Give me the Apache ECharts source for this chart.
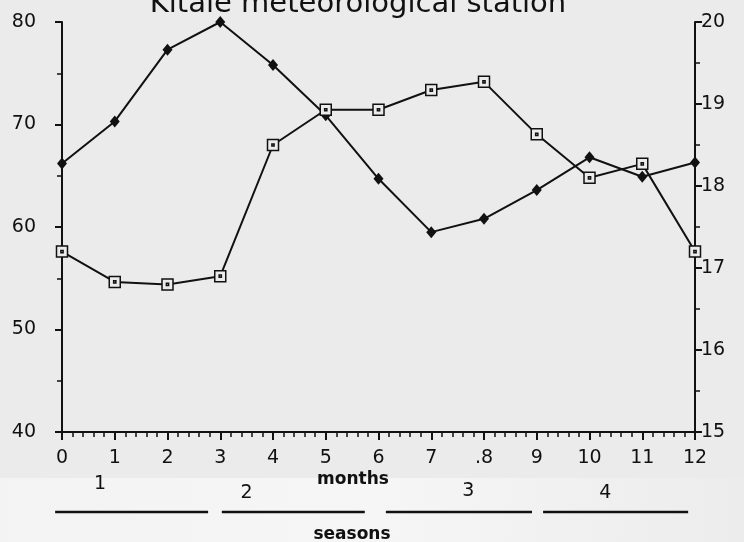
<!DOCTYPE html>
<html>
<head>
<meta charset="utf-8">
<script src="https://cdn.jsdelivr.net/npm/echarts@6/dist/echarts.min.js"></script>
<style>
  html, body { margin: 0; padding: 0; background: #ebebeb; }
  #chart-container { width: 744px; height: 542px; }
</style>
</head>
<body>
<div id="chart-container"></div>
<script>
// months 0..12
var months = [0, 1, 2, 3, 4, 5, 6, 7, 8, 9, 10, 11, 12];
var monthLabels = ['0', '1', '2', '3', '4', '5', '6', '7', '.8', '9', '10', '11', '12'];

// diamonds, read against the left axis
var diamondValues = [66.2, 70.3, 77.3, 80.0, 75.8, 70.9, 64.7, 59.5, 60.8, 63.6, 66.8, 64.9, 66.3];
// squares, read against the right axis
var squareValues = [17.2, 16.83, 16.8, 16.9, 18.5, 18.93, 18.93, 19.17, 19.27, 18.63, 18.1, 18.27, 17.2];

// seasons under the month axis: label, label position (month), underline start/end (month)
var seasonNames = ['1', '2', '3', '4'];
var seasonLabelAt = [0.72, 3.5, 7.7, 10.3];
var seasonLabelY = [484, 493, 491, 493];
var seasonFrom = [-0.13, 3.03, 6.14, 9.12];
var seasonTo = [2.77, 5.74, 8.91, 11.87];

var fontFamily = 'DejaVu Sans';

var myChart = echarts.init(document.getElementById('chart-container'));

var option = {
    backgroundColor: '#ebebeb',
    animation: false,
    grid: { left: 62, right: 49, top: 22, bottom: 110 },
    xAxis: {
        type: 'value',
        min: 0,
        max: 12,
        interval: 1,
        axisLine: { lineStyle: { color: '#111', width: 2 } },
        axisTick: { length: 8, lineStyle: { color: '#111', width: 2 } },
        minorTick: { show: true, splitNumber: 5, length: 5, lineStyle: { color: '#111', width: 1.5 } },
        splitLine: { show: false },
        axisLabel: {
            margin: 17,
            color: '#111',
            fontSize: 19,
            fontFamily: fontFamily,
            formatter: function (v) { return monthLabels[months.indexOf(v)]; }
        }
    },
    yAxis: [{
        type: 'value',
        min: 40,
        max: 80,
        interval: 10,
        axisLine: { show: true, lineStyle: { color: '#111', width: 2 } },
        axisTick: { show: true, length: 7, lineStyle: { color: '#111', width: 2 } },
        minorTick: { show: true, splitNumber: 2, length: 5, lineStyle: { color: '#111', width: 1.5 } },
        splitLine: { show: false },
        axisLabel: { margin: 26, color: '#111', fontSize: 19, fontFamily: fontFamily }
    }, {
        type: 'value',
        min: 15,
        max: 20,
        interval: 1,
        position: 'right',
        axisLine: { show: true, lineStyle: { color: '#111', width: 2 } },
        axisTick: { show: true, length: 7, lineStyle: { color: '#111', width: 2 } },
        minorTick: { show: true, splitNumber: 2, length: 5, lineStyle: { color: '#111', width: 1.5 } },
        splitLine: { show: false },
        axisLabel: { margin: 6, color: '#111', fontSize: 19, fontFamily: fontFamily }
    }],
    series: [{
        type: 'line',
        yAxisIndex: 0,
        data: months.map(function (m, i) { return [m, diamondValues[i]]; }),
        symbol: 'diamond',
        symbolSize: [10, 12],
        lineStyle: { color: '#111', width: 2 },
        itemStyle: { color: '#111' },
        z: 3
    }, {
        type: 'line',
        yAxisIndex: 1,
        data: months.map(function (m, i) { return [m, squareValues[i]]; }),
        symbol: 'path://M0,0H10V10H0Z M4,4H6V6H4Z',
        symbolSize: 11,
        lineStyle: { color: '#111', width: 2 },
        itemStyle: { color: '#ebebeb', borderColor: '#111', borderWidth: 1.5 },
        z: 4
    }]
};

myChart.setOption(option);

// title and the season captions, placed through the x axis scale
function xAt(m) { return myChart.convertToPixel({ xAxisIndex: 0 }, m); }

var graphics = [{
    type: 'rect',
    shape: { x: 0, y: 478, width: 744, height: 64 },
    style: {
        fill: new echarts.graphic.LinearGradient(0, 0, 1, 0, [
            { offset: 0, color: '#f3f3f3' },
            { offset: 0.5, color: '#f6f6f6' },
            { offset: 1, color: '#ececec' }
        ])
    },
    z: -1
}, {
    type: 'text',
    x: 358, y: 19,
    style: {
        text: 'Kitale meteorological station',
        align: 'center', verticalAlign: 'bottom',
        font: '29px ' + fontFamily, fill: '#111'
    }
}, {
    type: 'text',
    x: 353, y: 480,
    style: { text: 'months', align: 'center', verticalAlign: 'middle', font: 'bold 17px ' + fontFamily, fill: '#111' }
}, {
    type: 'text',
    x: 352, y: 535,
    style: { text: 'seasons', align: 'center', verticalAlign: 'middle', font: 'bold 17px ' + fontFamily, fill: '#111' }
}];

seasonNames.forEach(function (name, i) {
    graphics.push({
        type: 'text',
        x: xAt(seasonLabelAt[i]), y: seasonLabelY[i],
        style: { text: name, align: 'center', verticalAlign: 'middle', font: '19px ' + fontFamily, fill: '#111' }
    });
    graphics.push({
        type: 'line',
        shape: { x1: xAt(seasonFrom[i]), y1: 512, x2: xAt(seasonTo[i]), y2: 512 },
        style: { stroke: '#111', lineWidth: 2.5 }
    });
});

myChart.setOption({ graphic: graphics });
</script>
</body>
</html>
